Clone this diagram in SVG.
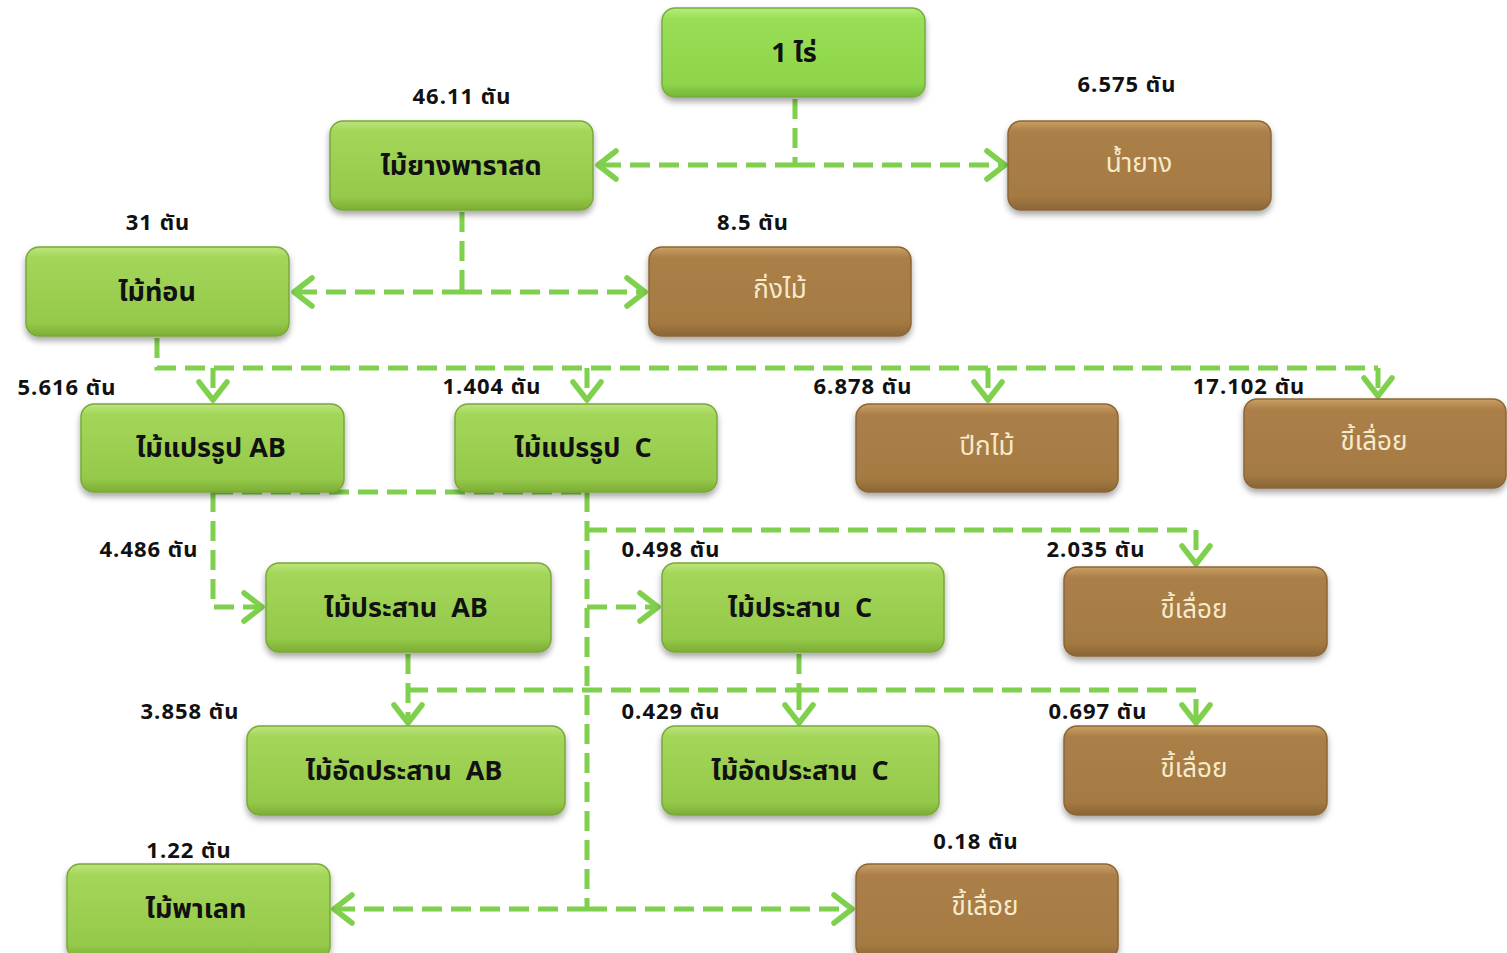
<svg xmlns="http://www.w3.org/2000/svg" width="1507" height="953" viewBox="0 0 1507 953">
<defs>
<linearGradient id="gGreen" x1="0" y1="0" x2="0" y2="1">
<stop offset="0" stop-color="#bce57c"/>
<stop offset="0.12" stop-color="#a3d659"/>
<stop offset="0.85" stop-color="#95c94a"/>
<stop offset="1" stop-color="#7cae35"/>
</linearGradient>
<linearGradient id="gGreenTop" x1="0" y1="0" x2="0" y2="1">
<stop offset="0" stop-color="#b8ec7c"/>
<stop offset="0.12" stop-color="#98df55"/>
<stop offset="0.85" stop-color="#8ed54b"/>
<stop offset="1" stop-color="#74b637"/>
</linearGradient>
<linearGradient id="gBrown" x1="0" y1="0" x2="0" y2="1">
<stop offset="0" stop-color="#c9a066"/>
<stop offset="0.12" stop-color="#ab7f47"/>
<stop offset="0.85" stop-color="#a57a43"/>
<stop offset="1" stop-color="#8a6536"/>
</linearGradient>
<filter id="sh" x="-10%" y="-10%" width="120%" height="130%">
<feDropShadow dx="0" dy="4" stdDeviation="3" flood-color="#000" flood-opacity="0.35"/>
</filter>
<marker id="ah" markerUnits="userSpaceOnUse" markerWidth="28" markerHeight="36" refX="22" refY="18" orient="auto">
<path d="M4,4 L22,18 L4,32" fill="none" stroke="#7fd04c" stroke-width="5.5" stroke-linecap="round" stroke-linejoin="round"/>
</marker>
<style>
.g{fill:url(#gGreen);stroke:#7aa83a;stroke-width:1.5;filter:url(#sh)}
.gt{fill:url(#gGreenTop);stroke:#76ad3c;stroke-width:1.5;filter:url(#sh)}
.b{fill:url(#gBrown);stroke:#8c6635;stroke-width:1.5;filter:url(#sh)}
.tg{font-family:"Noto Sans Thai","Noto Sans","DejaVu Sans",sans-serif;font-size:27px;font-weight:bold;fill:#111;text-anchor:middle}
.tb{font-family:"Noto Sans Thai","Noto Sans","DejaVu Sans",sans-serif;font-size:26px;fill:#f6ebcc;text-anchor:middle}
.lb{font-family:"Noto Sans Thai","Liberation Sans","DejaVu Sans",sans-serif;font-size:22px;font-weight:bold;fill:#111;text-anchor:middle;letter-spacing:1px}
.c{fill:none;stroke:#7fd04c;stroke-width:5;stroke-dasharray:20 9}
.ca{fill:none;stroke:#7fd04c;stroke-width:5;stroke-dasharray:20 9;marker-end:url(#ah)}
</style>
</defs>
<rect width="1507" height="953" fill="#ffffff"/>

<g id="connectors">
<path class="c" d="M795,99 V165"/>
<path class="ca" d="M795,165 H598"/>
<path class="ca" d="M795,165 H1005"/>

<path class="c" d="M462,212 V292"/>
<path class="ca" d="M462,292 H294"/>
<path class="ca" d="M462,292 H645"/>

<path class="c" d="M157,338 V368 H1378"/>
<path class="ca" d="M213,368 V400"/>
<path class="ca" d="M587,368 V400"/>
<path class="ca" d="M988,368 V400"/>
<path class="ca" d="M1378,368 V396"/>

<path class="c" d="M213,492 H587"/>
<path class="ca" d="M213,492 V607 H262"/>
<path class="c" d="M587,492 V909"/>
<path class="ca" d="M587,909 H334"/>
<path class="ca" d="M587,909 H852"/>
<path class="ca" d="M587,530 H1196 V564"/>
<path class="ca" d="M587,607 H658"/>

<path class="ca" d="M408,654 V723"/>
<path class="c" d="M408,690 H799"/>
<path class="c" d="M799,654 V690"/>
<path class="ca" d="M799,690 V723"/>
<path class="ca" d="M799,690 H1196 V723"/>
</g>

<g id="n-rai"><rect class="gt" x="662" y="8" width="263" height="89" rx="13"/><text class="tg" x="794" y="62">1 ไร่</text></g>
<g id="n-yang"><rect class="g" x="330" y="121" width="263" height="89" rx="13"/><text class="tg" x="461" y="175">ไม้ยางพาราสด</text></g>
<g id="n-latex"><rect class="b" x="1008" y="121" width="263" height="89" rx="13"/><text class="tb" x="1139" y="172">น้ำยาง</text></g>
<g id="n-log"><rect class="g" x="26" y="247" width="263" height="89" rx="13"/><text class="tg" x="157" y="301">ไม้ท่อน</text></g>
<g id="n-branch"><rect class="b" x="649" y="247" width="262" height="89" rx="13"/><text class="tb" x="780" y="298">กิ่งไม้</text></g>
<g id="n-sawab"><rect class="g" x="81" y="404" width="263" height="88" rx="13"/><text class="tg" x="211" y="457">ไม้แปรรูป AB</text></g>
<g id="n-sawc"><rect class="g" x="455" y="404" width="262" height="88" rx="13"/><text class="tg" x="583" y="457" xml:space="preserve">ไม้แปรรูป  C</text></g>
<g id="n-slab"><rect class="b" x="856" y="404" width="262" height="88" rx="13"/><text class="tb" x="987" y="455">ปีกไม้</text></g>
<g id="n-dust1"><rect class="b" x="1244" y="399" width="262" height="89" rx="13"/><text class="tb" x="1374" y="450">ขี้เลื่อย</text></g>
<g id="n-glueab"><rect class="g" x="266" y="563" width="285" height="89" rx="13"/><text class="tg" x="406" y="617" xml:space="preserve">ไม้ประสาน  AB</text></g>
<g id="n-gluec"><rect class="g" x="662" y="563" width="282" height="89" rx="13"/><text class="tg" x="800" y="617" xml:space="preserve">ไม้ประสาน  C</text></g>
<g id="n-dust2"><rect class="b" x="1064" y="567" width="263" height="89" rx="13"/><text class="tb" x="1194" y="618">ขี้เลื่อย</text></g>
<g id="n-plyab"><rect class="g" x="247" y="726" width="318" height="89" rx="13"/><text class="tg" x="404" y="780" xml:space="preserve">ไม้อัดประสาน  AB</text></g>
<g id="n-plyc"><rect class="g" x="662" y="726" width="277" height="89" rx="13"/><text class="tg" x="800" y="780" xml:space="preserve">ไม้อัดประสาน  C</text></g>
<g id="n-dust3"><rect class="b" x="1064" y="726" width="263" height="89" rx="13"/><text class="tb" x="1194" y="777">ขี้เลื่อย</text></g>
<g id="n-pallet"><rect class="g" x="67" y="864" width="263" height="95" rx="13"/><text class="tg" x="196" y="918">ไม้พาเลท</text></g>
<g id="n-dust4"><rect class="b" x="856" y="864" width="262" height="95" rx="13"/><text class="tb" x="985" y="915">ขี้เลื่อย</text></g>

<g id="labels">
<text class="lb" x="462" y="104">46.11 ตัน</text>
<text class="lb" x="1127" y="92">6.575 ตัน</text>
<text class="lb" x="158" y="230">31 ตัน</text>
<text class="lb" x="753" y="230">8.5 ตัน</text>
<text class="lb" x="67" y="395">5.616 ตัน</text>
<text class="lb" x="492" y="394">1.404 ตัน</text>
<text class="lb" x="863" y="394">6.878 ตัน</text>
<text class="lb" x="1249" y="394">17.102 ตัน</text>
<text class="lb" x="149" y="557">4.486 ตัน</text>
<text class="lb" x="671" y="557">0.498 ตัน</text>
<text class="lb" x="1096" y="557">2.035 ตัน</text>
<text class="lb" x="190" y="719">3.858 ตัน</text>
<text class="lb" x="671" y="719">0.429 ตัน</text>
<text class="lb" x="1098" y="719">0.697 ตัน</text>
<text class="lb" x="189" y="858">1.22 ตัน</text>
<text class="lb" x="976" y="849">0.18 ตัน</text>
</g>
</svg>
